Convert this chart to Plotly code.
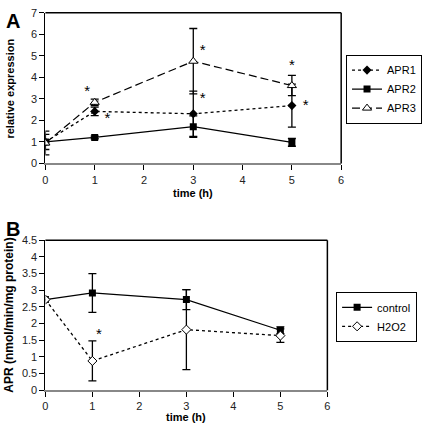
import plotly.graph_objects as go

# ---------------- data ----------------
time_h = [0, 1, 3, 5]

apr1 = [1.0, 2.42, 2.31, 2.69]
apr1_err = [0.35, 0.2, 1.05, 1.0]
apr2 = [1.0, 1.21, 1.71, 0.98]
apr2_err = [0.1, 0.06, 0.5, 0.18]
apr3 = [0.95, 2.84, 4.75, 3.62]
apr3_err = [0.55, 0.15, 1.52, 0.47]

control = [2.72, 2.92, 2.72, 1.8]
control_err = [0.0, 0.58, 0.3, 0.1]
h2o2 = [2.72, 0.88, 1.82, 1.64]
h2o2_err = [0.0, 0.6, 1.2, 0.2]

# significance stars (x, y in data units)
starsA_x = [0.85, 1.26, 3.19, 3.19, 5.0, 5.28]
starsA_y = [3.33, 2.04, 5.21, 2.99, 4.53, 2.67]
starsB_x = [1.14]
starsB_y = [1.66]

x_ticks = [0, 1, 2, 3, 4, 5, 6]
yA_ticks = [0, 1, 2, 3, 4, 5, 6, 7]
yB_ticks = [0, 0.5, 1, 1.5, 2, 2.5, 3, 3.5, 4, 4.5]
yB_ticklabels = ["0", "0.5", "1", "1.5", "2", "2.5", "3", "3.5", "4", "4.5"]

# ---------------- figure ----------------
W, H = 427, 431
FONT = "Liberation Sans, Arial, sans-serif"

def px(x):
    return x / W

def py(y):
    return 1 - y / H

fig = go.Figure()

def err(vals):
    return dict(type="data", array=vals, visible=True, color="black", thickness=1.3, width=4)

fig.add_trace(go.Scatter(x=time_h, y=apr1, name="APR1", mode="lines+markers",
                         line=dict(color="black", width=1.3, dash="dot"),
                         marker=dict(symbol="diamond", size=7, color="black"),
                         error_y=err(apr1_err), xaxis="x", yaxis="y", legend="legend"))
fig.add_trace(go.Scatter(x=time_h, y=apr2, name="APR2", mode="lines+markers",
                         line=dict(color="black", width=1.2),
                         marker=dict(symbol="square", size=7, color="black"),
                         error_y=err(apr2_err), xaxis="x", yaxis="y", legend="legend"))
fig.add_trace(go.Scatter(x=time_h, y=apr3, name="APR3", mode="lines+markers",
                         line=dict(color="black", width=1.2, dash="8px,4px"),
                         marker=dict(symbol="triangle-up", size=8, color="white",
                                     line=dict(color="black", width=1)),
                         error_y=err(apr3_err), xaxis="x", yaxis="y", legend="legend"))

fig.add_trace(go.Scatter(x=time_h, y=control, name="control", mode="lines+markers",
                         line=dict(color="black", width=1.2),
                         marker=dict(symbol="square", size=7, color="black"),
                         error_y=err(control_err), xaxis="x2", yaxis="y2", legend="legend2"))
fig.add_trace(go.Scatter(x=time_h, y=h2o2, name="H2O2", mode="lines+markers",
                         line=dict(color="black", width=1.3, dash="dot"),
                         marker=dict(symbol="diamond", size=7, color="white",
                                     line=dict(color="black", width=1)),
                         error_y=err(h2o2_err), xaxis="x2", yaxis="y2", legend="legend2"))

# stars
fig.add_trace(go.Scatter(x=starsA_x, y=starsA_y, mode="text", text=["*"] * len(starsA_x),
                         textfont=dict(family=FONT, size=15, color="black"),
                         textposition="middle center", showlegend=False,
                         hoverinfo="skip", xaxis="x", yaxis="y"))
fig.add_trace(go.Scatter(x=starsB_x, y=starsB_y, mode="text", text=["*"] * len(starsB_x),
                         textfont=dict(family=FONT, size=15, color="black"),
                         textposition="middle center", showlegend=False,
                         hoverinfo="skip", xaxis="x2", yaxis="y2"))

tickfont = dict(family=FONT, size=11, color="#222")

xA_dom = [px(43), px(343)]
yA_dom = [py(162), py(7)]
xB_dom = [px(43), px(329)]
yB_dom = [py(395.3), py(241)]

common_x = dict(range=[0, 6], tickvals=x_ticks, showgrid=False, zeroline=False,
                showline=True, linecolor="#888", linewidth=2, ticks="outside",
                ticklen=5, tickcolor="black", tickwidth=1, tickfont=tickfont)
common_y = dict(showgrid=False, zeroline=False, showline=True, linecolor="black",
                linewidth=1, ticks="outside", ticklen=5, tickcolor="black",
                tickwidth=1, tickfont=tickfont)

fig.update_layout(
    width=W, height=H, margin=dict(l=0, r=0, t=0, b=0),
    paper_bgcolor="white", plot_bgcolor="white",
    font=dict(family=FONT, color="black"),
    xaxis=dict(domain=xA_dom, anchor="y", **common_x),
    yaxis=dict(domain=yA_dom, anchor="x", range=[0, 7], tickvals=yA_ticks, **common_y),
    xaxis2=dict(domain=xB_dom, anchor="y2", **common_x),
    yaxis2=dict(domain=yB_dom, anchor="x2", range=[0, 4.5], tickvals=yB_ticks,
                ticktext=yB_ticklabels, **common_y),
    legend=dict(x=px(425), y=py(50), xanchor="right", yanchor="top",
                bordercolor="black", borderwidth=1, bgcolor="white",
                font=dict(family=FONT, size=11, color="black"),
                tracegroupgap=0, itemwidth=30),
    legend2=dict(x=px(420), y=py(294), xanchor="right", yanchor="top",
                 bordercolor="black", borderwidth=1, bgcolor="white",
                 font=dict(family=FONT, size=11, color="black"),
                 tracegroupgap=0, itemwidth=30),
    showlegend=True,
)

# frame top/right lines
for xr, yr in (("x domain", "y domain"), ("x2 domain", "y2 domain")):
    fig.add_shape(type="line", xref=xr, yref=yr, x0=0, x1=1, y0=1, y1=1,
                  line=dict(color="black", width=1.5))
    fig.add_shape(type="line", xref=xr, yref=yr, x0=1, x1=1, y0=0, y1=1,
                  line=dict(color="black", width=1.5))

bold = dict(family=FONT, size=11, color="black")
fig.add_annotation(text="<b>time (h)</b>", xref="paper", yref="paper",
                   x=(xA_dom[0] + xA_dom[1]) / 2, y=py(192), showarrow=False,
                   xanchor="center", yanchor="middle", font=bold)
fig.add_annotation(text="<b>time (h)</b>", xref="paper", yref="paper",
                   x=(xB_dom[0] + xB_dom[1]) / 2, y=py(423), showarrow=False,
                   xanchor="center", yanchor="middle", font=bold)
fig.add_annotation(text="<b>relative expression</b>", xref="paper", yref="paper",
                   x=px(7.5), y=(yA_dom[0] + yA_dom[1]) / 2, showarrow=False, textangle=-90,
                   xanchor="center", yanchor="middle", font=bold)
fig.add_annotation(text="<b>APR (nmol/min/mg protein)</b>", xref="paper", yref="paper",
                   x=px(6.5), y=(yB_dom[0] + yB_dom[1]) / 2, showarrow=False, textangle=-90,
                   xanchor="center", yanchor="middle",
                   font=dict(family=FONT, size=12, color="black"))
fig.add_annotation(text="<b>A</b>", xref="paper", yref="paper", x=px(1), y=py(15),
                   showarrow=False, xanchor="left", yanchor="middle",
                   font=dict(family=FONT, size=20, color="black"))
fig.add_annotation(text="<b>B</b>", xref="paper", yref="paper", x=px(1), y=py(229),
                   showarrow=False, xanchor="left", yanchor="middle",
                   font=dict(family=FONT, size=20, color="black"))

fig.write_html("out.html", config={"displayModeBar": False},
               post_script="document.body.style.margin='0';document.body.style.overflow='hidden';")
